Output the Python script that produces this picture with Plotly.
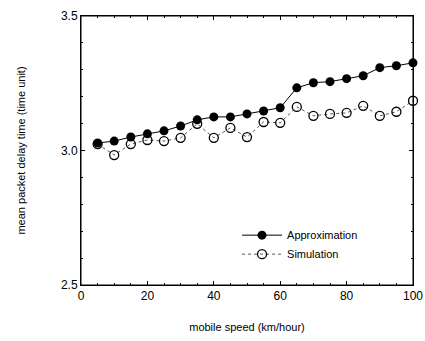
import plotly.graph_objects as go

speed = [5, 10, 15, 20, 25, 30, 35, 40, 45, 50, 55, 60, 65, 70, 75, 80, 85, 90, 95, 100]
approximation = [3.028, 3.035, 3.050, 3.062, 3.073, 3.091, 3.114, 3.125, 3.125, 3.136,
                 3.147, 3.159, 3.233, 3.252, 3.256, 3.267, 3.278, 3.308, 3.315, 3.326]
simulation = [3.024, 2.983, 3.024, 3.039, 3.035, 3.047, 3.099, 3.047, 3.084, 3.050,
              3.106, 3.103, 3.162, 3.129, 3.136, 3.140, 3.166, 3.129, 3.144, 3.185]
x_tick_step = 20
y_tick_step = 0.5

fig = go.Figure()
fig.add_trace(go.Scatter(
    x=speed, y=simulation, name="Simulation", mode="lines+markers",
    line=dict(color="#555555", width=1, dash="dot"),
    marker=dict(symbol="circle-open", size=9, color="black", line=dict(width=1.3, color="black")),
    cliponaxis=False,
))
fig.add_trace(go.Scatter(
    x=speed, y=approximation, name="Approximation", mode="lines+markers",
    line=dict(color="black", width=1),
    marker=dict(symbol="circle", size=9, color="black"),
    cliponaxis=False,
))

# frame around the plot area (domain-referenced)
fig.add_shape(type="rect", xref="x domain", yref="y domain", x0=0, x1=1, y0=0, y1=1,
              line=dict(color="black", width=1), layer="above")

font = dict(family="Liberation Sans, Arial, sans-serif", color="black")
fig.update_layout(
    width=425, height=341,
    margin=dict(l=81, r=12, t=16, b=56, autoexpand=False),
    paper_bgcolor="white", plot_bgcolor="white",
    font=dict(size=11, **font),
    showlegend=True,
    legend=dict(x=0.47, y=0.15, xanchor="left", yanchor="middle",
                bgcolor="rgba(0,0,0,0)", traceorder="reversed",
                font=dict(size=11, **font), itemwidth=40, tracegroupgap=0),
)
fig.update_xaxes(
    range=[0, 100], tick0=0, dtick=x_tick_step, showgrid=False, zeroline=False,
    showline=True, linecolor="black", linewidth=1, mirror="allticks",
    ticks="inside", ticklen=4, tickcolor="black",
    minor=dict(ticks="inside", ticklen=2, dtick=5, tickcolor="black", showgrid=False),
    automargin=False,
    tickfont=dict(size=12, **font),
    title=dict(text="mobile speed (km/hour)", font=dict(size=11, **font), standoff=20),
)
fig.update_yaxes(
    range=[2.5, 3.5], tick0=2.5, dtick=y_tick_step, tickformat=".1f", showgrid=False, zeroline=False,
    showline=True, linecolor="black", linewidth=1, mirror="allticks",
    ticks="inside", ticklen=4, tickcolor="black",
    minor=dict(ticks="inside", ticklen=2, dtick=0.1, tickcolor="black", showgrid=False),
    automargin=False,
    tickfont=dict(size=12, **font),
    title=dict(text="mean packet delay time (time unit)", font=dict(size=11, **font), standoff=33),
)
fig.write_html("out.html", config={"displayModeBar": False},
               post_script="document.body.style.margin='0';")
